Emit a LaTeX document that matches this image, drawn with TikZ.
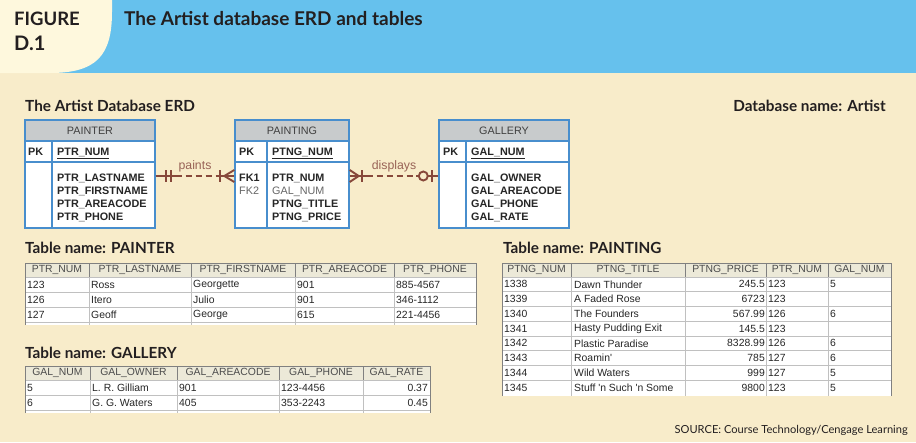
\documentclass[tikz,border=0pt]{standalone}
\usepackage{fontspec}
\setmainfont{Lato}
\newfontfamily\arialfont{Liberation Sans}
\usetikzlibrary{positioning,calc}
\definecolor{PageBeige}{RGB}{248,236,202}
\definecolor{CornerCream}{RGB}{254,248,221}
\definecolor{BandBlue}{RGB}{102,193,237}
\definecolor{ErdBlue}{RGB}{72,142,205}
\definecolor{ErdGrey}{RGB}{200,203,204}
\definecolor{RelBrown}{RGB}{135,72,58}
\definecolor{HeadFill}{RGB}{236,233,216}
\definecolor{GridGrey}{RGB}{192,192,192}
\definecolor{EdgeGrey}{RGB}{128,128,128}
\definecolor{InkDark}{RGB}{35,31,32}

\begin{document}
\begin{tikzpicture}[
x=1pt,y=-1pt,
heading/.style={font=\bfseries\fontsize{15.3}{17}\selectfont,anchor=base west,inner sep=0pt,text=InkDark},
ent/.style={draw=ErdBlue,line width=1.4pt,fill=white,inner sep=0pt,minimum height=108pt},
enthead/.style={draw=ErdBlue,line width=1.4pt,fill=ErdGrey,inner sep=0pt,minimum height=21pt,font=\arialfont\fontsize{10.8}{12}\selectfont,text=black!75},
erdline/.style={draw=ErdBlue,line width=1.4pt},
erdtxt/.style={font=\arialfont\bfseries\fontsize{10.8}{12}\selectfont,anchor=base west,inner sep=0pt,text=black!85},
fktxt/.style={font=\arialfont\fontsize{10.8}{12}\selectfont,anchor=base west,inner sep=0pt,text=black!60},
rel/.style={draw=RelBrown,line width=1.9pt},
reldash/.style={rel,dash pattern=on 6pt off 4pt},
rellabel/.style={font=\arialfont\fontsize{12.3}{14}\selectfont,text=RelBrown!85,inner sep=0pt,anchor=base},
cell/.style={font=\arialfont\fontsize{10.4}{12}\selectfont,inner sep=0pt,text=black!85},
colhead/.style={cell,text=black!70},
tabline/.style={draw=GridGrey,line width=0.8pt},
tabedge/.style={draw=EdgeGrey,line width=1pt}
]
\useasboundingbox (0,0) rectangle (916,442);
% page and title band
\fill[PageBeige] (0,0) rectangle (916,442);
\fill[BandBlue] (0,0) rectangle (916,73);
\fill[CornerCream] (0,0) -- (112,0) -- (112,12) .. controls (112,56) and (96,73) .. (50,73) -- (0,73) -- cycle;
\node[font=\bfseries\fontsize{18.5}{20}\selectfont,anchor=base west,inner sep=0pt,text=InkDark] (fig) at (14,25) {FIGURE};
\node[font=\bfseries\fontsize{20}{22}\selectfont,anchor=base west,inner sep=0pt,text=InkDark] (fignum) at (14,50) {D.1};
\node[font=\bfseries\fontsize{19}{21}\selectfont,anchor=base west,inner sep=0pt,text=InkDark] (title) at (124,25) {The Artist database ERD and tables};

% ERD
\node[heading] (erdtitle) at (25,111) {The Artist Database ERD};
\node[heading,anchor=base east] (dbname) at (886,111) {Database name: Artist};

% painter entity
\node[ent,minimum width=130pt] (painter) at (90,174) {};
\node[enthead,minimum width=130pt,anchor=north] (painterh) at (painter.north) {PAINTER};
\draw[erdline] (painter.west |- 0,162) -- (painter.east |- 0,162);
\draw[erdline] (52,141) -- (52,228);
\node[erdtxt] (painterpk) at (28,155) {PK};
\node[erdtxt] (painterkey) at (57,155) {\underline{PTR\_NUM}};
\foreach \a [count=\i] in {PTR\_LASTNAME,PTR\_FIRSTNAME,PTR\_AREACODE,PTR\_PHONE}
  \node[erdtxt] (painter\i) at (57,{167.7+13.3*\i}) {\a};

% painting entity
\node[ent,minimum width=114pt] (painting) at (292,174) {};
\node[enthead,minimum width=114pt,anchor=north] (paintingh) at (painting.north) {PAINTING};
\draw[erdline] (painting.west |- 0,162) -- (painting.east |- 0,162);
\draw[erdline] (267,141) -- (267,228);
\node[erdtxt] (paintingpk) at (239,155) {PK};
\node[erdtxt] (paintingkey) at (272,155) {\underline{PTNG\_NUM}};
\node[erdtxt] (fk1) at (239,181) {FK1};
\node[fktxt] (fk2) at (239,194.3) {FK2};
\node[erdtxt] (painting1) at (272,181) {PTR\_NUM};
\node[fktxt] (painting2) at (272,194.3) {GAL\_NUM};
\node[erdtxt] (painting3) at (272,207.6) {PTNG\_TITLE};
\node[erdtxt] (painting4) at (272,220.9) {PTNG\_PRICE};

% gallery entity
\node[ent,minimum width=130pt] (gallery) at (504,174) {};
\node[enthead,minimum width=130pt,anchor=north] (galleryh) at (gallery.north) {GALLERY};
\draw[erdline] (gallery.west |- 0,162) -- (gallery.east |- 0,162);
\draw[erdline] (466,141) -- (466,228);
\node[erdtxt] (gallerypk) at (443,155) {PK};
\node[erdtxt] (gallerykey) at (471,155) {\underline{GAL\_NUM}};
\foreach \a [count=\i] in {GAL\_OWNER,GAL\_AREACODE,GAL\_PHONE,GAL\_RATE}
  \node[erdtxt] (gallery\i) at (471,{167.7+13.3*\i}) {\a};

% paints: one painter, many paintings
\coordinate (pa) at ([yshift=-2pt]painter.east);
\coordinate (pb) at ([yshift=-2pt]painting.west);
\draw[rel] (pa) -- ([xshift=20pt]pa);
\draw[reldash] ([xshift=20pt]pa) -- ([xshift=-16pt]pb);
\draw[rel] ([xshift=-16pt]pb) -- (pb);
\draw[rel] ([xshift=10pt,yshift=6pt]pa) -- ([xshift=10pt,yshift=-6pt]pa);
\draw[rel] ([xshift=15pt,yshift=6pt]pa) -- ([xshift=15pt,yshift=-6pt]pa);
\draw[rel] ([xshift=-14pt,yshift=6pt]pb) -- ([xshift=-14pt,yshift=-6pt]pb);
\draw[rel] ([yshift=6pt]pb) -- ([xshift=-10pt]pb) -- ([yshift=-6pt]pb);
\node[rellabel] (paints) at ([yshift=7pt]$(pa)!0.5!(pb)$) {paints};

% displays: many paintings, optional gallery
\coordinate (da) at ([yshift=-2pt]painting.east);
\coordinate (db) at ([yshift=-2pt]gallery.west);
\draw[rel] (da) -- ([xshift=17pt]da);
\draw[reldash] ([xshift=17pt]da) -- ([xshift=-22pt]db);
\draw[rel] ([xshift=-22pt]db) -- (db);
\draw[rel] ([yshift=6pt]da) -- ([xshift=9pt]da) -- ([yshift=-6pt]da);
\draw[rel] ([xshift=12pt,yshift=6pt]da) -- ([xshift=12pt,yshift=-6pt]da);
\draw[rel,fill=PageBeige] ([xshift=-15pt]db) circle[radius=4.5pt];
\draw[rel] ([xshift=-6pt,yshift=6pt]db) -- ([xshift=-6pt,yshift=-6pt]db);
\node[rellabel] (displays) at ([yshift=7pt]$(da)!0.5!(db)$) {displays};

% table PAINTER
\node[heading] (ptrname) at (25,253) {Table name: PAINTER};
\fill[white] (25,263) rectangle (476,325);
\fill[HeadFill] (25,263) rectangle (476,277);
\foreach \yy in {277,292,307,322} \draw[tabline] (25,\yy) -- (476,\yy);
\foreach \xx in {89,191,295,394} {
  \draw[tabline] (\xx,277) -- (\xx,325);
  \draw[tabedge] (\xx,264) -- (\xx,277);
}
\draw[tabedge] (25,325) -- (25,263) -- (476,263) -- (476,325);
\foreach \t/\xa/\xb [count=\k] in {PTR\_NUM/25/89,PTR\_LASTNAME/89/191,PTR\_FIRSTNAME/191/295,PTR\_AREACODE/295/394,PTR\_PHONE/394/476}
  \node[colhead] (ptrh\k) at ({(\xa+\xb)/2},270) {\t};
\foreach \pa/\pb/\pc/\pd/\pe [count=\r] in {123/Ross/Georgette/901/885-4567,126/Itero/Julio/901/346-1112,127/Geoff/George/615/221-4456} {
  \node[cell,anchor=west] (ptr\r-1) at (27,{269.5+15*\r}) {\pa};
  \node[cell,anchor=west] (ptr\r-2) at (91,{269.5+15*\r}) {\pb};
  \node[cell,anchor=west] (ptr\r-3) at (193,{269.5+15*\r}) {\pc};
  \node[cell,anchor=west] (ptr\r-4) at (297,{269.5+15*\r}) {\pd};
  \node[cell,anchor=west] (ptr\r-5) at (396,{269.5+15*\r}) {\pe};
}

% table GALLERY
\node[heading] (galname) at (25,358) {Table name: GALLERY};
\fill[white] (25,366) rectangle (430,413);
\fill[HeadFill] (25,366) rectangle (430,380);
\foreach \yy in {380,395,410} \draw[tabline] (25,\yy) -- (430,\yy);
\foreach \xx in {90,177,279,363} {
  \draw[tabline] (\xx,380) -- (\xx,413);
  \draw[tabedge] (\xx,367) -- (\xx,380);
}
\draw[tabedge] (25,413) -- (25,366) -- (430,366) -- (430,413);
\foreach \t/\xa/\xb [count=\k] in {GAL\_NUM/25/90,GAL\_OWNER/90/177,GAL\_AREACODE/177/279,GAL\_PHONE/279/363,GAL\_RATE/363/430}
  \node[colhead] (galh\k) at ({(\xa+\xb)/2},373) {\t};
\foreach \pa/\pb/\pc/\pd/\pe [count=\r] in {5/L. R. Gilliam/901/123-4456/0.37,6/G. G. Waters/405/353-2243/0.45} {
  \node[cell,anchor=west] (gal\r-1) at (27,{372.5+15*\r}) {\pa};
  \node[cell,anchor=west] (gal\r-2) at (92,{372.5+15*\r}) {\pb};
  \node[cell,anchor=west] (gal\r-3) at (179,{372.5+15*\r}) {\pc};
  \node[cell,anchor=west] (gal\r-4) at (281,{372.5+15*\r}) {\pd};
  \node[cell,anchor=east] (gal\r-5) at (428,{372.5+15*\r}) {\pe};
}

% table PAINTING
\node[heading] (ptngname) at (503,253) {Table name: PAINTING};
\fill[white] (502,263) rectangle (891,396);
\fill[HeadFill] (502,263) rectangle (891,277);
\foreach \r in {1,...,7} \draw[tabline] (502,{277+14.75*\r}) -- (891,{277+14.75*\r});
\draw[tabline] (502,277) -- (891,277);
\foreach \xx in {571,685,766,828} {
  \draw[tabline] (\xx,277) -- (\xx,396);
  \draw[tabedge] (\xx,264) -- (\xx,277);
}
\draw[tabedge] (502,396) -- (502,263) -- (891,263) -- (891,396);
\foreach \t/\xa/\xb [count=\k] in {PTNG\_NUM/502/571,PTNG\_TITLE/571/685,PTNG\_PRICE/685/766,PTR\_NUM/766/828,GAL\_NUM/828/891}
  \node[colhead] (ptngh\k) at ({(\xa+\xb)/2},270) {\t};
\foreach \pa/\pb/\pc/\pd/\pe [count=\r] in {1338/Dawn Thunder/245.5/123/5,1339/A Faded Rose/6723/123/,1340/The Founders/567.99/126/6,1341/Hasty Pudding Exit/145.5/123/,1342/Plastic Paradise/8328.99/126/6,1343/Roamin\textquotesingle/785/127/6,1344/Wild Waters/999/127/5,1345/Stuff \textquotesingle n Such \textquotesingle n Some/9800/123/5} {
  \node[cell,anchor=west] (ptng\r-1) at (504,{269.6+14.75*\r}) {\pa};
  \node[cell,anchor=west] (ptng\r-2) at (574,{269.6+14.75*\r}) {\pb};
  \node[cell,anchor=east] (ptng\r-3) at (765,{269.6+14.75*\r}) {\pc};
  \node[cell,anchor=west] (ptng\r-4) at (768,{269.6+14.75*\r}) {\pd};
  \node[cell,anchor=west] (ptng\r-5) at (830,{269.6+14.75*\r}) {\pe};
}

\node[font=\fontsize{11.1}{13}\selectfont,anchor=base east,inner sep=0pt,text=InkDark] (source) at (908,433) {SOURCE: Course Technology/Cengage Learning};
\end{tikzpicture}
\end{document}
